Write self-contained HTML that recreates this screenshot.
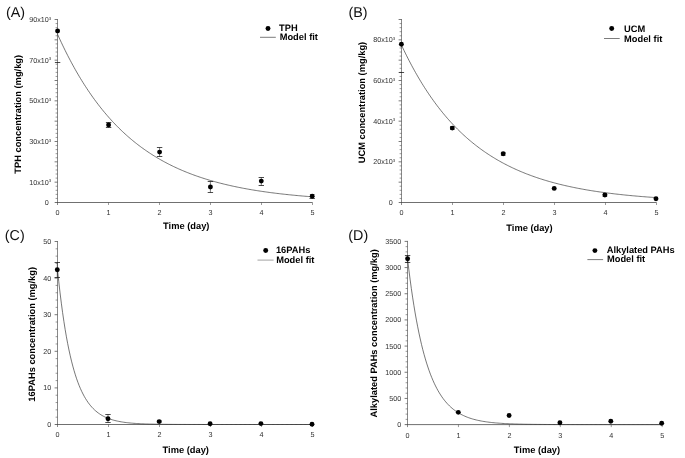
<!DOCTYPE html>
<html><head><meta charset="utf-8"><title>Figure</title>
<style>
html,body{margin:0;padding:0;background:#fff;}
body{width:685px;height:458px;overflow:hidden;font-family:"Liberation Sans",sans-serif;}
svg{display:block;will-change:transform;opacity:0.999;}
text{font-family:"Liberation Sans",sans-serif;text-rendering:geometricPrecision;}
.tl{font-size:7.2px;fill:#333;}
.sup{font-size:4.4px;}
.b{font-size:9.3px;font-weight:bold;fill:#000;}
.pl{font-size:14.3px;fill:#111;}
</style></head><body>
<svg width="685" height="458" viewBox="0 0 685 458">
<rect x="0" y="0" width="685" height="458" fill="#fff"/>
<line x1="54.70" y1="202.50" x2="312.50" y2="202.50" stroke="#404040" stroke-width="0.75"/>
<line x1="57.50" y1="19.00" x2="57.50" y2="205.00" stroke="#404040" stroke-width="0.62"/>
<line x1="55.60" y1="198.43" x2="57.50" y2="198.43" stroke="#484848" stroke-width="0.55"/>
<line x1="55.60" y1="194.37" x2="57.50" y2="194.37" stroke="#484848" stroke-width="0.55"/>
<line x1="55.60" y1="190.30" x2="57.50" y2="190.30" stroke="#484848" stroke-width="0.55"/>
<line x1="55.60" y1="186.23" x2="57.50" y2="186.23" stroke="#484848" stroke-width="0.55"/>
<line x1="54.60" y1="182.17" x2="57.50" y2="182.17" stroke="#404040" stroke-width="0.7"/>
<line x1="55.60" y1="178.10" x2="57.50" y2="178.10" stroke="#484848" stroke-width="0.55"/>
<line x1="55.60" y1="174.03" x2="57.50" y2="174.03" stroke="#484848" stroke-width="0.55"/>
<line x1="55.60" y1="169.97" x2="57.50" y2="169.97" stroke="#484848" stroke-width="0.55"/>
<line x1="55.60" y1="165.90" x2="57.50" y2="165.90" stroke="#484848" stroke-width="0.55"/>
<line x1="54.60" y1="161.83" x2="57.50" y2="161.83" stroke="#404040" stroke-width="0.7"/>
<line x1="55.60" y1="157.77" x2="57.50" y2="157.77" stroke="#484848" stroke-width="0.55"/>
<line x1="55.60" y1="153.70" x2="57.50" y2="153.70" stroke="#484848" stroke-width="0.55"/>
<line x1="55.60" y1="149.63" x2="57.50" y2="149.63" stroke="#484848" stroke-width="0.55"/>
<line x1="55.60" y1="145.57" x2="57.50" y2="145.57" stroke="#484848" stroke-width="0.55"/>
<line x1="54.60" y1="141.50" x2="57.50" y2="141.50" stroke="#404040" stroke-width="0.7"/>
<line x1="55.60" y1="137.43" x2="57.50" y2="137.43" stroke="#484848" stroke-width="0.55"/>
<line x1="55.60" y1="133.37" x2="57.50" y2="133.37" stroke="#484848" stroke-width="0.55"/>
<line x1="55.60" y1="129.30" x2="57.50" y2="129.30" stroke="#484848" stroke-width="0.55"/>
<line x1="55.60" y1="125.23" x2="57.50" y2="125.23" stroke="#484848" stroke-width="0.55"/>
<line x1="54.60" y1="121.17" x2="57.50" y2="121.17" stroke="#404040" stroke-width="0.7"/>
<line x1="55.60" y1="117.10" x2="57.50" y2="117.10" stroke="#484848" stroke-width="0.55"/>
<line x1="55.60" y1="113.03" x2="57.50" y2="113.03" stroke="#484848" stroke-width="0.55"/>
<line x1="55.60" y1="108.97" x2="57.50" y2="108.97" stroke="#484848" stroke-width="0.55"/>
<line x1="55.60" y1="104.90" x2="57.50" y2="104.90" stroke="#484848" stroke-width="0.55"/>
<line x1="54.60" y1="100.83" x2="57.50" y2="100.83" stroke="#404040" stroke-width="0.7"/>
<line x1="55.60" y1="96.77" x2="57.50" y2="96.77" stroke="#484848" stroke-width="0.55"/>
<line x1="55.60" y1="92.70" x2="57.50" y2="92.70" stroke="#484848" stroke-width="0.55"/>
<line x1="55.60" y1="88.63" x2="57.50" y2="88.63" stroke="#484848" stroke-width="0.55"/>
<line x1="55.60" y1="84.57" x2="57.50" y2="84.57" stroke="#484848" stroke-width="0.55"/>
<line x1="54.60" y1="80.50" x2="57.50" y2="80.50" stroke="#404040" stroke-width="0.7"/>
<line x1="55.60" y1="76.43" x2="57.50" y2="76.43" stroke="#484848" stroke-width="0.55"/>
<line x1="55.60" y1="72.37" x2="57.50" y2="72.37" stroke="#484848" stroke-width="0.55"/>
<line x1="55.60" y1="68.30" x2="57.50" y2="68.30" stroke="#484848" stroke-width="0.55"/>
<line x1="55.60" y1="64.23" x2="57.50" y2="64.23" stroke="#484848" stroke-width="0.55"/>
<line x1="54.60" y1="60.17" x2="57.50" y2="60.17" stroke="#404040" stroke-width="0.7"/>
<line x1="55.60" y1="56.10" x2="57.50" y2="56.10" stroke="#484848" stroke-width="0.55"/>
<line x1="55.60" y1="52.03" x2="57.50" y2="52.03" stroke="#484848" stroke-width="0.55"/>
<line x1="55.60" y1="47.97" x2="57.50" y2="47.97" stroke="#484848" stroke-width="0.55"/>
<line x1="55.60" y1="43.90" x2="57.50" y2="43.90" stroke="#484848" stroke-width="0.55"/>
<line x1="54.60" y1="39.83" x2="57.50" y2="39.83" stroke="#404040" stroke-width="0.7"/>
<line x1="55.60" y1="35.77" x2="57.50" y2="35.77" stroke="#484848" stroke-width="0.55"/>
<line x1="55.60" y1="31.70" x2="57.50" y2="31.70" stroke="#484848" stroke-width="0.55"/>
<line x1="55.60" y1="27.63" x2="57.50" y2="27.63" stroke="#484848" stroke-width="0.55"/>
<line x1="55.60" y1="23.57" x2="57.50" y2="23.57" stroke="#484848" stroke-width="0.55"/>
<line x1="54.60" y1="19.50" x2="57.50" y2="19.50" stroke="#404040" stroke-width="0.7"/>
<line x1="108.50" y1="202.50" x2="108.50" y2="205.00" stroke="#484848" stroke-width="0.55"/>
<line x1="159.50" y1="202.50" x2="159.50" y2="205.00" stroke="#484848" stroke-width="0.55"/>
<line x1="210.50" y1="202.50" x2="210.50" y2="205.00" stroke="#484848" stroke-width="0.55"/>
<line x1="261.50" y1="202.50" x2="261.50" y2="205.00" stroke="#484848" stroke-width="0.55"/>
<line x1="312.50" y1="202.50" x2="312.50" y2="205.00" stroke="#484848" stroke-width="0.55"/>
<text x="48.80" y="205.00" text-anchor="end" class="tl">0</text>
<text x="51.20" y="184.67" text-anchor="end" class="tl">10x10<tspan class="sup" dy="-2.5">3</tspan></text>
<text x="51.20" y="144.00" text-anchor="end" class="tl">30x10<tspan class="sup" dy="-2.5">3</tspan></text>
<text x="51.20" y="103.33" text-anchor="end" class="tl">50x10<tspan class="sup" dy="-2.5">3</tspan></text>
<text x="51.20" y="62.67" text-anchor="end" class="tl">70x10<tspan class="sup" dy="-2.5">3</tspan></text>
<text x="51.20" y="22.00" text-anchor="end" class="tl">90x10<tspan class="sup" dy="-2.5">3</tspan></text>
<text x="57.50" y="215.40" text-anchor="middle" class="tl">0</text>
<text x="108.50" y="215.40" text-anchor="middle" class="tl">1</text>
<text x="159.50" y="215.40" text-anchor="middle" class="tl">2</text>
<text x="210.50" y="215.40" text-anchor="middle" class="tl">3</text>
<text x="261.50" y="215.40" text-anchor="middle" class="tl">4</text>
<text x="312.50" y="215.40" text-anchor="middle" class="tl">5</text>
<path d="M57.50 34.14 L58.77 36.97 L60.05 39.75 L61.33 42.49 L62.60 45.18 L63.88 47.82 L65.15 50.42 L66.42 52.98 L67.70 55.49 L68.97 57.96 L70.25 60.39 L71.53 62.78 L72.80 65.13 L74.08 67.44 L75.35 69.71 L76.62 71.94 L77.90 74.13 L79.17 76.29 L80.45 78.41 L81.72 80.50 L83.00 82.55 L84.28 84.56 L85.55 86.54 L86.83 88.49 L88.10 90.41 L89.38 92.29 L90.65 94.15 L91.93 95.97 L93.20 97.76 L94.47 99.52 L95.75 101.25 L97.03 102.95 L98.30 104.62 L99.57 106.27 L100.85 107.89 L102.12 109.48 L103.40 111.04 L104.68 112.58 L105.95 114.09 L107.22 115.57 L108.50 117.04 L109.78 118.47 L111.05 119.88 L112.32 121.27 L113.60 122.64 L114.88 123.98 L116.15 125.30 L117.43 126.60 L118.70 127.87 L119.97 129.13 L121.25 130.36 L122.52 131.57 L123.80 132.76 L125.08 133.94 L126.35 135.09 L127.62 136.22 L128.90 137.34 L130.18 138.43 L131.45 139.51 L132.73 140.57 L134.00 141.61 L135.27 142.63 L136.55 143.64 L137.82 144.63 L139.10 145.60 L140.38 146.56 L141.65 147.50 L142.93 148.42 L144.20 149.33 L145.48 150.22 L146.75 151.10 L148.02 151.97 L149.30 152.81 L150.57 153.65 L151.85 154.47 L153.12 155.28 L154.40 156.07 L155.68 156.85 L156.95 157.62 L158.23 158.37 L159.50 159.12 L160.77 159.84 L162.05 160.56 L163.32 161.27 L164.60 161.96 L165.88 162.64 L167.15 163.31 L168.43 163.97 L169.70 164.62 L170.98 165.25 L172.25 165.88 L173.52 166.50 L174.80 167.10 L176.07 167.70 L177.35 168.28 L178.62 168.86 L179.90 169.42 L181.18 169.98 L182.45 170.52 L183.73 171.06 L185.00 171.59 L186.28 172.11 L187.55 172.62 L188.83 173.12 L190.10 173.62 L191.38 174.10 L192.65 174.58 L193.92 175.05 L195.20 175.51 L196.47 175.96 L197.75 176.41 L199.03 176.85 L200.30 177.28 L201.58 177.70 L202.85 178.12 L204.12 178.53 L205.40 178.93 L206.67 179.33 L207.95 179.72 L209.22 180.10 L210.50 180.48 L211.78 180.85 L213.05 181.21 L214.33 181.57 L215.60 181.92 L216.88 182.27 L218.15 182.61 L219.42 182.94 L220.70 183.27 L221.97 183.59 L223.25 183.91 L224.53 184.22 L225.80 184.53 L227.08 184.83 L228.35 185.13 L229.62 185.42 L230.90 185.71 L232.17 185.99 L233.45 186.27 L234.72 186.54 L236.00 186.81 L237.28 187.07 L238.55 187.33 L239.83 187.59 L241.10 187.84 L242.38 188.08 L243.65 188.33 L244.92 188.56 L246.20 188.80 L247.47 189.03 L248.75 189.26 L250.03 189.48 L251.30 189.70 L252.58 189.91 L253.85 190.12 L255.12 190.33 L256.40 190.54 L257.67 190.74 L258.95 190.93 L260.23 191.13 L261.50 191.32 L262.77 191.51 L264.05 191.69 L265.33 191.87 L266.60 192.05 L267.88 192.23 L269.15 192.40 L270.42 192.57 L271.70 192.74 L272.98 192.90 L274.25 193.06 L275.52 193.22 L276.80 193.38 L278.08 193.53 L279.35 193.68 L280.62 193.83 L281.90 193.98 L283.17 194.12 L284.45 194.26 L285.73 194.40 L287.00 194.53 L288.27 194.67 L289.55 194.80 L290.83 194.93 L292.10 195.06 L293.38 195.18 L294.65 195.30 L295.92 195.43 L297.20 195.54 L298.48 195.66 L299.75 195.78 L301.02 195.89 L302.30 196.00 L303.58 196.11 L304.85 196.22 L306.12 196.32 L307.40 196.43 L308.67 196.53 L309.95 196.63 L311.23 196.73 L312.50 196.82" fill="none" stroke="#303030" stroke-width="0.66"/>
<line x1="54.90" y1="62.50" x2="60.30" y2="62.50" stroke="#111" stroke-width="0.75"/>
<circle cx="57.60" cy="31.00" r="2.45" fill="#000"/>
<line x1="108.60" y1="122.50" x2="108.60" y2="127.50" stroke="#222" stroke-width="0.6"/>
<line x1="105.90" y1="122.50" x2="111.30" y2="122.50" stroke="#111" stroke-width="0.75"/>
<line x1="105.90" y1="127.50" x2="111.30" y2="127.50" stroke="#111" stroke-width="0.75"/>
<circle cx="108.60" cy="124.90" r="2.45" fill="#000"/>
<line x1="159.60" y1="147.50" x2="159.60" y2="156.50" stroke="#222" stroke-width="0.6"/>
<line x1="156.90" y1="147.50" x2="162.30" y2="147.50" stroke="#111" stroke-width="0.75"/>
<line x1="156.90" y1="156.50" x2="162.30" y2="156.50" stroke="#111" stroke-width="0.75"/>
<circle cx="159.60" cy="152.10" r="2.45" fill="#000"/>
<line x1="210.40" y1="181.50" x2="210.40" y2="192.50" stroke="#222" stroke-width="0.6"/>
<line x1="207.70" y1="181.50" x2="213.10" y2="181.50" stroke="#111" stroke-width="0.75"/>
<line x1="207.70" y1="192.50" x2="213.10" y2="192.50" stroke="#111" stroke-width="0.75"/>
<circle cx="210.40" cy="187.00" r="2.45" fill="#000"/>
<line x1="261.30" y1="177.50" x2="261.30" y2="185.50" stroke="#222" stroke-width="0.6"/>
<line x1="258.60" y1="177.50" x2="264.00" y2="177.50" stroke="#111" stroke-width="0.75"/>
<line x1="258.60" y1="185.50" x2="264.00" y2="185.50" stroke="#111" stroke-width="0.75"/>
<circle cx="261.30" cy="181.10" r="2.45" fill="#000"/>
<line x1="312.20" y1="194.50" x2="312.20" y2="198.50" stroke="#222" stroke-width="0.6"/>
<line x1="309.90" y1="194.50" x2="314.50" y2="194.50" stroke="#111" stroke-width="0.6"/>
<line x1="309.50" y1="198.50" x2="314.90" y2="198.50" stroke="#111" stroke-width="0.75"/>
<circle cx="312.20" cy="196.20" r="2.45" fill="#000"/>
<line x1="398.70" y1="202.50" x2="656.50" y2="202.50" stroke="#404040" stroke-width="0.75"/>
<line x1="401.50" y1="19.00" x2="401.50" y2="205.00" stroke="#404040" stroke-width="0.62"/>
<line x1="399.60" y1="198.43" x2="401.50" y2="198.43" stroke="#484848" stroke-width="0.55"/>
<line x1="399.60" y1="194.37" x2="401.50" y2="194.37" stroke="#484848" stroke-width="0.55"/>
<line x1="399.60" y1="190.30" x2="401.50" y2="190.30" stroke="#484848" stroke-width="0.55"/>
<line x1="399.60" y1="186.23" x2="401.50" y2="186.23" stroke="#484848" stroke-width="0.55"/>
<line x1="398.60" y1="182.17" x2="401.50" y2="182.17" stroke="#404040" stroke-width="0.7"/>
<line x1="399.60" y1="178.10" x2="401.50" y2="178.10" stroke="#484848" stroke-width="0.55"/>
<line x1="399.60" y1="174.03" x2="401.50" y2="174.03" stroke="#484848" stroke-width="0.55"/>
<line x1="399.60" y1="169.97" x2="401.50" y2="169.97" stroke="#484848" stroke-width="0.55"/>
<line x1="399.60" y1="165.90" x2="401.50" y2="165.90" stroke="#484848" stroke-width="0.55"/>
<line x1="398.60" y1="161.83" x2="401.50" y2="161.83" stroke="#404040" stroke-width="0.7"/>
<line x1="399.60" y1="157.77" x2="401.50" y2="157.77" stroke="#484848" stroke-width="0.55"/>
<line x1="399.60" y1="153.70" x2="401.50" y2="153.70" stroke="#484848" stroke-width="0.55"/>
<line x1="399.60" y1="149.63" x2="401.50" y2="149.63" stroke="#484848" stroke-width="0.55"/>
<line x1="399.60" y1="145.57" x2="401.50" y2="145.57" stroke="#484848" stroke-width="0.55"/>
<line x1="398.60" y1="141.50" x2="401.50" y2="141.50" stroke="#404040" stroke-width="0.7"/>
<line x1="399.60" y1="137.43" x2="401.50" y2="137.43" stroke="#484848" stroke-width="0.55"/>
<line x1="399.60" y1="133.37" x2="401.50" y2="133.37" stroke="#484848" stroke-width="0.55"/>
<line x1="399.60" y1="129.30" x2="401.50" y2="129.30" stroke="#484848" stroke-width="0.55"/>
<line x1="399.60" y1="125.23" x2="401.50" y2="125.23" stroke="#484848" stroke-width="0.55"/>
<line x1="398.60" y1="121.17" x2="401.50" y2="121.17" stroke="#404040" stroke-width="0.7"/>
<line x1="399.60" y1="117.10" x2="401.50" y2="117.10" stroke="#484848" stroke-width="0.55"/>
<line x1="399.60" y1="113.03" x2="401.50" y2="113.03" stroke="#484848" stroke-width="0.55"/>
<line x1="399.60" y1="108.97" x2="401.50" y2="108.97" stroke="#484848" stroke-width="0.55"/>
<line x1="399.60" y1="104.90" x2="401.50" y2="104.90" stroke="#484848" stroke-width="0.55"/>
<line x1="398.60" y1="100.83" x2="401.50" y2="100.83" stroke="#404040" stroke-width="0.7"/>
<line x1="399.60" y1="96.77" x2="401.50" y2="96.77" stroke="#484848" stroke-width="0.55"/>
<line x1="399.60" y1="92.70" x2="401.50" y2="92.70" stroke="#484848" stroke-width="0.55"/>
<line x1="399.60" y1="88.63" x2="401.50" y2="88.63" stroke="#484848" stroke-width="0.55"/>
<line x1="399.60" y1="84.57" x2="401.50" y2="84.57" stroke="#484848" stroke-width="0.55"/>
<line x1="398.60" y1="80.50" x2="401.50" y2="80.50" stroke="#404040" stroke-width="0.7"/>
<line x1="399.60" y1="76.43" x2="401.50" y2="76.43" stroke="#484848" stroke-width="0.55"/>
<line x1="399.60" y1="72.37" x2="401.50" y2="72.37" stroke="#484848" stroke-width="0.55"/>
<line x1="399.60" y1="68.30" x2="401.50" y2="68.30" stroke="#484848" stroke-width="0.55"/>
<line x1="399.60" y1="64.23" x2="401.50" y2="64.23" stroke="#484848" stroke-width="0.55"/>
<line x1="398.60" y1="60.17" x2="401.50" y2="60.17" stroke="#404040" stroke-width="0.7"/>
<line x1="399.60" y1="56.10" x2="401.50" y2="56.10" stroke="#484848" stroke-width="0.55"/>
<line x1="399.60" y1="52.03" x2="401.50" y2="52.03" stroke="#484848" stroke-width="0.55"/>
<line x1="399.60" y1="47.97" x2="401.50" y2="47.97" stroke="#484848" stroke-width="0.55"/>
<line x1="399.60" y1="43.90" x2="401.50" y2="43.90" stroke="#484848" stroke-width="0.55"/>
<line x1="398.60" y1="39.83" x2="401.50" y2="39.83" stroke="#404040" stroke-width="0.7"/>
<line x1="399.60" y1="35.77" x2="401.50" y2="35.77" stroke="#484848" stroke-width="0.55"/>
<line x1="399.60" y1="31.70" x2="401.50" y2="31.70" stroke="#484848" stroke-width="0.55"/>
<line x1="399.60" y1="27.63" x2="401.50" y2="27.63" stroke="#484848" stroke-width="0.55"/>
<line x1="399.60" y1="23.57" x2="401.50" y2="23.57" stroke="#484848" stroke-width="0.55"/>
<line x1="398.60" y1="19.50" x2="401.50" y2="19.50" stroke="#404040" stroke-width="0.7"/>
<line x1="452.50" y1="202.50" x2="452.50" y2="205.00" stroke="#484848" stroke-width="0.55"/>
<line x1="503.50" y1="202.50" x2="503.50" y2="205.00" stroke="#484848" stroke-width="0.55"/>
<line x1="554.50" y1="202.50" x2="554.50" y2="205.00" stroke="#484848" stroke-width="0.55"/>
<line x1="605.50" y1="202.50" x2="605.50" y2="205.00" stroke="#484848" stroke-width="0.55"/>
<line x1="656.50" y1="202.50" x2="656.50" y2="205.00" stroke="#484848" stroke-width="0.55"/>
<text x="392.80" y="205.00" text-anchor="end" class="tl">0</text>
<text x="395.20" y="164.33" text-anchor="end" class="tl">20x10<tspan class="sup" dy="-2.5">3</tspan></text>
<text x="395.20" y="123.67" text-anchor="end" class="tl">40x10<tspan class="sup" dy="-2.5">3</tspan></text>
<text x="395.20" y="83.00" text-anchor="end" class="tl">60x10<tspan class="sup" dy="-2.5">3</tspan></text>
<text x="395.20" y="42.33" text-anchor="end" class="tl">80x10<tspan class="sup" dy="-2.5">3</tspan></text>
<text x="401.50" y="215.40" text-anchor="middle" class="tl">0</text>
<text x="452.50" y="215.40" text-anchor="middle" class="tl">1</text>
<text x="503.50" y="215.40" text-anchor="middle" class="tl">2</text>
<text x="554.50" y="215.40" text-anchor="middle" class="tl">3</text>
<text x="605.50" y="215.40" text-anchor="middle" class="tl">4</text>
<text x="656.50" y="215.40" text-anchor="middle" class="tl">5</text>
<path d="M401.50 45.12 L402.77 47.83 L404.05 50.50 L405.32 53.11 L406.60 55.69 L407.88 58.22 L409.15 60.70 L410.43 63.14 L411.70 65.54 L412.98 67.90 L414.25 70.22 L415.52 72.50 L416.80 74.74 L418.07 76.94 L419.35 79.10 L420.62 81.23 L421.90 83.32 L423.18 85.37 L424.45 87.39 L425.73 89.37 L427.00 91.32 L428.27 93.23 L429.55 95.12 L430.82 96.97 L432.10 98.78 L433.38 100.57 L434.65 102.33 L435.93 104.05 L437.20 105.75 L438.48 107.41 L439.75 109.05 L441.02 110.66 L442.30 112.24 L443.57 113.80 L444.85 115.33 L446.12 116.83 L447.40 118.30 L448.68 119.75 L449.95 121.18 L451.23 122.58 L452.50 123.96 L453.77 125.31 L455.05 126.64 L456.32 127.94 L457.60 129.23 L458.88 130.49 L460.15 131.73 L461.43 132.95 L462.70 134.15 L463.98 135.33 L465.25 136.48 L466.52 137.62 L467.80 138.74 L469.07 139.84 L470.35 140.92 L471.62 141.98 L472.90 143.02 L474.18 144.04 L475.45 145.05 L476.73 146.04 L478.00 147.01 L479.27 147.97 L480.55 148.91 L481.82 149.83 L483.10 150.74 L484.38 151.63 L485.65 152.51 L486.93 153.37 L488.20 154.21 L489.48 155.04 L490.75 155.86 L492.02 156.67 L493.30 157.45 L494.57 158.23 L495.85 158.99 L497.12 159.74 L498.40 160.48 L499.68 161.20 L500.95 161.91 L502.23 162.61 L503.50 163.30 L504.77 163.98 L506.05 164.64 L507.32 165.29 L508.60 165.93 L509.88 166.56 L511.15 167.18 L512.42 167.79 L513.70 168.39 L514.98 168.98 L516.25 169.55 L517.52 170.12 L518.80 170.68 L520.08 171.23 L521.35 171.76 L522.62 172.29 L523.90 172.81 L525.17 173.33 L526.45 173.83 L527.73 174.32 L529.00 174.81 L530.27 175.28 L531.55 175.75 L532.83 176.21 L534.10 176.67 L535.38 177.11 L536.65 177.55 L537.92 177.98 L539.20 178.40 L540.48 178.82 L541.75 179.22 L543.02 179.63 L544.30 180.02 L545.58 180.41 L546.85 180.79 L548.12 181.16 L549.40 181.53 L550.67 181.89 L551.95 182.24 L553.23 182.59 L554.50 182.94 L555.77 183.27 L557.05 183.60 L558.33 183.93 L559.60 184.25 L560.88 184.56 L562.15 184.87 L563.42 185.18 L564.70 185.48 L565.98 185.77 L567.25 186.06 L568.52 186.34 L569.80 186.62 L571.08 186.89 L572.35 187.16 L573.62 187.42 L574.90 187.68 L576.17 187.94 L577.45 188.19 L578.73 188.44 L580.00 188.68 L581.27 188.92 L582.55 189.15 L583.83 189.38 L585.10 189.61 L586.38 189.83 L587.65 190.05 L588.92 190.26 L590.20 190.47 L591.48 190.68 L592.75 190.88 L594.02 191.08 L595.30 191.28 L596.58 191.47 L597.85 191.66 L599.12 191.85 L600.40 192.03 L601.67 192.21 L602.95 192.39 L604.23 192.57 L605.50 192.74 L606.77 192.90 L608.05 193.07 L609.33 193.23 L610.60 193.39 L611.88 193.55 L613.15 193.70 L614.42 193.85 L615.70 194.00 L616.98 194.15 L618.25 194.29 L619.52 194.43 L620.80 194.57 L622.08 194.71 L623.35 194.84 L624.62 194.98 L625.90 195.11 L627.17 195.23 L628.45 195.36 L629.73 195.48 L631.00 195.60 L632.27 195.72 L633.55 195.84 L634.83 195.95 L636.10 196.07 L637.38 196.18 L638.65 196.29 L639.92 196.39 L641.20 196.50 L642.48 196.60 L643.75 196.70 L645.02 196.80 L646.30 196.90 L647.58 197.00 L648.85 197.09 L650.12 197.18 L651.40 197.28 L652.67 197.37 L653.95 197.45 L655.23 197.54 L656.50 197.63" fill="none" stroke="#303030" stroke-width="0.66"/>
<line x1="398.70" y1="72.50" x2="404.10" y2="72.50" stroke="#111" stroke-width="0.75"/>
<circle cx="401.40" cy="44.20" r="2.45" fill="#000"/>
<line x1="452.30" y1="126.50" x2="452.30" y2="129.50" stroke="#222" stroke-width="0.6"/>
<line x1="450.00" y1="126.50" x2="454.60" y2="126.50" stroke="#111" stroke-width="0.6"/>
<line x1="450.00" y1="129.50" x2="454.60" y2="129.50" stroke="#111" stroke-width="0.6"/>
<circle cx="452.30" cy="128.10" r="2.45" fill="#000"/>
<line x1="503.20" y1="152.50" x2="503.20" y2="155.50" stroke="#222" stroke-width="0.6"/>
<line x1="500.90" y1="152.50" x2="505.50" y2="152.50" stroke="#111" stroke-width="0.6"/>
<line x1="500.90" y1="155.50" x2="505.50" y2="155.50" stroke="#111" stroke-width="0.6"/>
<circle cx="503.20" cy="153.80" r="2.45" fill="#000"/>
<circle cx="554.20" cy="188.40" r="2.45" fill="#000"/>
<line x1="604.90" y1="194.50" x2="604.90" y2="196.50" stroke="#222" stroke-width="0.6"/>
<line x1="602.60" y1="194.50" x2="607.20" y2="194.50" stroke="#111" stroke-width="0.6"/>
<line x1="602.60" y1="196.50" x2="607.20" y2="196.50" stroke="#111" stroke-width="0.6"/>
<circle cx="604.90" cy="195.00" r="2.45" fill="#000"/>
<circle cx="656.00" cy="198.80" r="2.45" fill="#000"/>
<line x1="54.70" y1="424.50" x2="312.50" y2="424.50" stroke="#404040" stroke-width="0.75"/>
<line x1="57.50" y1="241.00" x2="57.50" y2="427.00" stroke="#404040" stroke-width="0.62"/>
<line x1="55.60" y1="417.18" x2="57.50" y2="417.18" stroke="#484848" stroke-width="0.55"/>
<line x1="55.60" y1="409.86" x2="57.50" y2="409.86" stroke="#484848" stroke-width="0.55"/>
<line x1="55.60" y1="402.54" x2="57.50" y2="402.54" stroke="#484848" stroke-width="0.55"/>
<line x1="55.60" y1="395.22" x2="57.50" y2="395.22" stroke="#484848" stroke-width="0.55"/>
<line x1="54.60" y1="387.90" x2="57.50" y2="387.90" stroke="#404040" stroke-width="0.7"/>
<line x1="55.60" y1="380.58" x2="57.50" y2="380.58" stroke="#484848" stroke-width="0.55"/>
<line x1="55.60" y1="373.26" x2="57.50" y2="373.26" stroke="#484848" stroke-width="0.55"/>
<line x1="55.60" y1="365.94" x2="57.50" y2="365.94" stroke="#484848" stroke-width="0.55"/>
<line x1="55.60" y1="358.62" x2="57.50" y2="358.62" stroke="#484848" stroke-width="0.55"/>
<line x1="54.60" y1="351.30" x2="57.50" y2="351.30" stroke="#404040" stroke-width="0.7"/>
<line x1="55.60" y1="343.98" x2="57.50" y2="343.98" stroke="#484848" stroke-width="0.55"/>
<line x1="55.60" y1="336.66" x2="57.50" y2="336.66" stroke="#484848" stroke-width="0.55"/>
<line x1="55.60" y1="329.34" x2="57.50" y2="329.34" stroke="#484848" stroke-width="0.55"/>
<line x1="55.60" y1="322.02" x2="57.50" y2="322.02" stroke="#484848" stroke-width="0.55"/>
<line x1="54.60" y1="314.70" x2="57.50" y2="314.70" stroke="#404040" stroke-width="0.7"/>
<line x1="55.60" y1="307.38" x2="57.50" y2="307.38" stroke="#484848" stroke-width="0.55"/>
<line x1="55.60" y1="300.06" x2="57.50" y2="300.06" stroke="#484848" stroke-width="0.55"/>
<line x1="55.60" y1="292.74" x2="57.50" y2="292.74" stroke="#484848" stroke-width="0.55"/>
<line x1="55.60" y1="285.42" x2="57.50" y2="285.42" stroke="#484848" stroke-width="0.55"/>
<line x1="54.60" y1="278.10" x2="57.50" y2="278.10" stroke="#404040" stroke-width="0.7"/>
<line x1="55.60" y1="270.78" x2="57.50" y2="270.78" stroke="#484848" stroke-width="0.55"/>
<line x1="55.60" y1="263.46" x2="57.50" y2="263.46" stroke="#484848" stroke-width="0.55"/>
<line x1="55.60" y1="256.14" x2="57.50" y2="256.14" stroke="#484848" stroke-width="0.55"/>
<line x1="55.60" y1="248.82" x2="57.50" y2="248.82" stroke="#484848" stroke-width="0.55"/>
<line x1="54.60" y1="241.50" x2="57.50" y2="241.50" stroke="#404040" stroke-width="0.7"/>
<line x1="108.50" y1="424.50" x2="108.50" y2="427.00" stroke="#484848" stroke-width="0.55"/>
<line x1="159.50" y1="424.50" x2="159.50" y2="427.00" stroke="#484848" stroke-width="0.55"/>
<line x1="210.50" y1="424.50" x2="210.50" y2="427.00" stroke="#484848" stroke-width="0.55"/>
<line x1="261.50" y1="424.50" x2="261.50" y2="427.00" stroke="#484848" stroke-width="0.55"/>
<line x1="312.50" y1="424.50" x2="312.50" y2="427.00" stroke="#484848" stroke-width="0.55"/>
<text x="51.20" y="427.00" text-anchor="end" class="tl">0</text>
<text x="51.20" y="390.40" text-anchor="end" class="tl">10</text>
<text x="51.20" y="353.80" text-anchor="end" class="tl">20</text>
<text x="51.20" y="317.20" text-anchor="end" class="tl">30</text>
<text x="51.20" y="280.60" text-anchor="end" class="tl">40</text>
<text x="51.20" y="244.00" text-anchor="end" class="tl">50</text>
<text x="57.50" y="437.40" text-anchor="middle" class="tl">0</text>
<text x="108.50" y="437.40" text-anchor="middle" class="tl">1</text>
<text x="159.50" y="437.40" text-anchor="middle" class="tl">2</text>
<text x="210.50" y="437.40" text-anchor="middle" class="tl">3</text>
<text x="261.50" y="437.40" text-anchor="middle" class="tl">4</text>
<text x="312.50" y="437.40" text-anchor="middle" class="tl">5</text>
<path d="M57.50 269.68 L58.77 281.76 L60.05 292.90 L61.33 303.17 L62.60 312.64 L63.88 321.37 L65.15 329.42 L66.42 336.84 L67.70 343.68 L68.97 349.99 L70.25 355.80 L71.53 361.16 L72.80 366.10 L74.08 370.66 L75.35 374.86 L76.62 378.74 L77.90 382.31 L79.17 385.60 L80.45 388.64 L81.72 391.43 L83.00 394.01 L84.28 396.39 L85.55 398.59 L86.83 400.61 L88.10 402.47 L89.38 404.19 L90.65 405.78 L91.93 407.24 L93.20 408.59 L94.47 409.83 L95.75 410.97 L97.03 412.03 L98.30 413.00 L99.57 413.90 L100.85 414.73 L102.12 415.49 L103.40 416.19 L104.68 416.84 L105.95 417.44 L107.22 417.99 L108.50 418.50 L109.78 418.97 L111.05 419.40 L112.32 419.80 L113.60 420.16 L114.88 420.50 L116.15 420.81 L117.43 421.10 L118.70 421.37 L119.97 421.61 L121.25 421.84 L122.52 422.04 L123.80 422.24 L125.08 422.41 L126.35 422.58 L127.62 422.73 L128.90 422.86 L130.18 422.99 L131.45 423.11 L132.73 423.22 L134.00 423.32 L135.27 423.41 L136.55 423.50 L137.82 423.57 L139.10 423.65 L140.38 423.71 L141.65 423.77 L142.93 423.83 L144.20 423.88 L145.48 423.93 L146.75 423.98 L148.02 424.02 L149.30 424.05 L150.57 424.09 L151.85 424.12 L153.12 424.15 L154.40 424.18 L155.68 424.20 L156.95 424.23 L158.23 424.25 L159.50 424.27 L160.77 424.29 L162.05 424.30 L163.32 424.32 L164.60 424.33 L165.88 424.34 L167.15 424.36 L168.43 424.37 L169.70 424.38 L170.98 424.39 L172.25 424.40 L173.52 424.40 L174.80 424.41 L176.07 424.42 L177.35 424.43 L178.62 424.43 L179.90 424.44 L181.18 424.44 L182.45 424.45 L183.73 424.45 L185.00 424.45 L186.28 424.46 L187.55 424.46 L188.83 424.46 L190.10 424.47 L191.38 424.47 L192.65 424.47 L193.92 424.47 L195.20 424.48 L196.47 424.48 L197.75 424.48 L199.03 424.48 L200.30 424.48 L201.58 424.48 L202.85 424.49 L204.12 424.49 L205.40 424.49 L206.67 424.49 L207.95 424.49 L209.22 424.49 L210.50 424.49 L211.78 424.49 L213.05 424.49 L214.33 424.49 L215.60 424.49 L216.88 424.49 L218.15 424.49 L219.42 424.49 L220.70 424.50 L221.97 424.50 L223.25 424.50 L224.53 424.50 L225.80 424.50 L227.08 424.50 L228.35 424.50 L229.62 424.50 L230.90 424.50 L232.17 424.50 L233.45 424.50 L234.72 424.50 L236.00 424.50 L237.28 424.50 L238.55 424.50 L239.83 424.50 L241.10 424.50 L242.38 424.50 L243.65 424.50 L244.92 424.50 L246.20 424.50 L247.47 424.50 L248.75 424.50 L250.03 424.50 L251.30 424.50 L252.58 424.50 L253.85 424.50 L255.12 424.50 L256.40 424.50 L257.67 424.50 L258.95 424.50 L260.23 424.50 L261.50 424.50 L262.77 424.50 L264.05 424.50 L265.33 424.50 L266.60 424.50 L267.88 424.50 L269.15 424.50 L270.42 424.50 L271.70 424.50 L272.98 424.50 L274.25 424.50 L275.52 424.50 L276.80 424.50 L278.08 424.50 L279.35 424.50 L280.62 424.50 L281.90 424.50 L283.17 424.50 L284.45 424.50 L285.73 424.50 L287.00 424.50 L288.27 424.50 L289.55 424.50 L290.83 424.50 L292.10 424.50 L293.38 424.50 L294.65 424.50 L295.92 424.50 L297.20 424.50 L298.48 424.50 L299.75 424.50 L301.02 424.50 L302.30 424.50 L303.58 424.50 L304.85 424.50 L306.12 424.50 L307.40 424.50 L308.67 424.50 L309.95 424.50 L311.23 424.50 L312.50 424.50" fill="none" stroke="#303030" stroke-width="0.66"/>
<line x1="57.30" y1="262.50" x2="57.30" y2="277.50" stroke="#222" stroke-width="0.6"/>
<line x1="54.60" y1="262.50" x2="60.00" y2="262.50" stroke="#111" stroke-width="0.75"/>
<line x1="54.60" y1="277.50" x2="60.00" y2="277.50" stroke="#111" stroke-width="0.75"/>
<circle cx="57.30" cy="269.70" r="2.45" fill="#000"/>
<line x1="108.00" y1="414.50" x2="108.00" y2="422.50" stroke="#222" stroke-width="0.6"/>
<line x1="105.30" y1="414.50" x2="110.70" y2="414.50" stroke="#111" stroke-width="0.75"/>
<line x1="105.30" y1="422.50" x2="110.70" y2="422.50" stroke="#111" stroke-width="0.75"/>
<circle cx="108.00" cy="418.70" r="2.45" fill="#000"/>
<line x1="159.20" y1="420.50" x2="159.20" y2="422.50" stroke="#222" stroke-width="0.6"/>
<line x1="156.90" y1="420.50" x2="161.50" y2="420.50" stroke="#111" stroke-width="0.6"/>
<line x1="156.90" y1="422.50" x2="161.50" y2="422.50" stroke="#111" stroke-width="0.6"/>
<circle cx="159.20" cy="421.60" r="2.45" fill="#000"/>
<circle cx="210.10" cy="423.80" r="2.45" fill="#000"/>
<circle cx="260.90" cy="423.60" r="2.45" fill="#000"/>
<circle cx="312.00" cy="424.30" r="2.45" fill="#000"/>
<line x1="404.70" y1="424.60" x2="662.20" y2="424.60" stroke="#404040" stroke-width="0.75"/>
<line x1="407.50" y1="240.90" x2="407.50" y2="427.10" stroke="#404040" stroke-width="0.62"/>
<line x1="405.60" y1="419.37" x2="407.50" y2="419.37" stroke="#484848" stroke-width="0.55"/>
<line x1="405.60" y1="414.13" x2="407.50" y2="414.13" stroke="#484848" stroke-width="0.55"/>
<line x1="405.60" y1="408.90" x2="407.50" y2="408.90" stroke="#484848" stroke-width="0.55"/>
<line x1="405.60" y1="403.66" x2="407.50" y2="403.66" stroke="#484848" stroke-width="0.55"/>
<line x1="404.60" y1="398.43" x2="407.50" y2="398.43" stroke="#404040" stroke-width="0.7"/>
<line x1="405.60" y1="393.19" x2="407.50" y2="393.19" stroke="#484848" stroke-width="0.55"/>
<line x1="405.60" y1="387.96" x2="407.50" y2="387.96" stroke="#484848" stroke-width="0.55"/>
<line x1="405.60" y1="382.73" x2="407.50" y2="382.73" stroke="#484848" stroke-width="0.55"/>
<line x1="405.60" y1="377.49" x2="407.50" y2="377.49" stroke="#484848" stroke-width="0.55"/>
<line x1="404.60" y1="372.26" x2="407.50" y2="372.26" stroke="#404040" stroke-width="0.7"/>
<line x1="405.60" y1="367.02" x2="407.50" y2="367.02" stroke="#484848" stroke-width="0.55"/>
<line x1="405.60" y1="361.79" x2="407.50" y2="361.79" stroke="#484848" stroke-width="0.55"/>
<line x1="405.60" y1="356.55" x2="407.50" y2="356.55" stroke="#484848" stroke-width="0.55"/>
<line x1="405.60" y1="351.32" x2="407.50" y2="351.32" stroke="#484848" stroke-width="0.55"/>
<line x1="404.60" y1="346.09" x2="407.50" y2="346.09" stroke="#404040" stroke-width="0.7"/>
<line x1="405.60" y1="340.85" x2="407.50" y2="340.85" stroke="#484848" stroke-width="0.55"/>
<line x1="405.60" y1="335.62" x2="407.50" y2="335.62" stroke="#484848" stroke-width="0.55"/>
<line x1="405.60" y1="330.38" x2="407.50" y2="330.38" stroke="#484848" stroke-width="0.55"/>
<line x1="405.60" y1="325.15" x2="407.50" y2="325.15" stroke="#484848" stroke-width="0.55"/>
<line x1="404.60" y1="319.91" x2="407.50" y2="319.91" stroke="#404040" stroke-width="0.7"/>
<line x1="405.60" y1="314.68" x2="407.50" y2="314.68" stroke="#484848" stroke-width="0.55"/>
<line x1="405.60" y1="309.45" x2="407.50" y2="309.45" stroke="#484848" stroke-width="0.55"/>
<line x1="405.60" y1="304.21" x2="407.50" y2="304.21" stroke="#484848" stroke-width="0.55"/>
<line x1="405.60" y1="298.98" x2="407.50" y2="298.98" stroke="#484848" stroke-width="0.55"/>
<line x1="404.60" y1="293.74" x2="407.50" y2="293.74" stroke="#404040" stroke-width="0.7"/>
<line x1="405.60" y1="288.51" x2="407.50" y2="288.51" stroke="#484848" stroke-width="0.55"/>
<line x1="405.60" y1="283.27" x2="407.50" y2="283.27" stroke="#484848" stroke-width="0.55"/>
<line x1="405.60" y1="278.04" x2="407.50" y2="278.04" stroke="#484848" stroke-width="0.55"/>
<line x1="405.60" y1="272.81" x2="407.50" y2="272.81" stroke="#484848" stroke-width="0.55"/>
<line x1="404.60" y1="267.57" x2="407.50" y2="267.57" stroke="#404040" stroke-width="0.7"/>
<line x1="405.60" y1="262.34" x2="407.50" y2="262.34" stroke="#484848" stroke-width="0.55"/>
<line x1="405.60" y1="257.10" x2="407.50" y2="257.10" stroke="#484848" stroke-width="0.55"/>
<line x1="405.60" y1="251.87" x2="407.50" y2="251.87" stroke="#484848" stroke-width="0.55"/>
<line x1="405.60" y1="246.63" x2="407.50" y2="246.63" stroke="#484848" stroke-width="0.55"/>
<line x1="404.60" y1="241.40" x2="407.50" y2="241.40" stroke="#404040" stroke-width="0.7"/>
<line x1="458.44" y1="424.60" x2="458.44" y2="427.10" stroke="#484848" stroke-width="0.55"/>
<line x1="509.38" y1="424.60" x2="509.38" y2="427.10" stroke="#484848" stroke-width="0.55"/>
<line x1="560.32" y1="424.60" x2="560.32" y2="427.10" stroke="#484848" stroke-width="0.55"/>
<line x1="611.26" y1="424.60" x2="611.26" y2="427.10" stroke="#484848" stroke-width="0.55"/>
<line x1="662.20" y1="424.60" x2="662.20" y2="427.10" stroke="#484848" stroke-width="0.55"/>
<text x="401.20" y="427.10" text-anchor="end" class="tl">0</text>
<text x="401.20" y="400.93" text-anchor="end" class="tl">500</text>
<text x="401.20" y="374.76" text-anchor="end" class="tl">1000</text>
<text x="401.20" y="348.59" text-anchor="end" class="tl">1500</text>
<text x="401.20" y="322.41" text-anchor="end" class="tl">2000</text>
<text x="401.20" y="296.24" text-anchor="end" class="tl">2500</text>
<text x="401.20" y="270.07" text-anchor="end" class="tl">3000</text>
<text x="401.20" y="243.90" text-anchor="end" class="tl">3500</text>
<text x="407.50" y="437.50" text-anchor="middle" class="tl">0</text>
<text x="458.44" y="437.50" text-anchor="middle" class="tl">1</text>
<text x="509.38" y="437.50" text-anchor="middle" class="tl">2</text>
<text x="560.32" y="437.50" text-anchor="middle" class="tl">3</text>
<text x="611.26" y="437.50" text-anchor="middle" class="tl">4</text>
<text x="662.20" y="437.50" text-anchor="middle" class="tl">5</text>
<path d="M407.50 258.46 L408.77 269.11 L410.05 279.08 L411.32 288.41 L412.59 297.14 L413.87 305.31 L415.14 312.96 L416.41 320.11 L417.69 326.81 L418.96 333.08 L420.24 338.95 L421.51 344.44 L422.78 349.58 L424.06 354.39 L425.33 358.89 L426.60 363.10 L427.88 367.04 L429.15 370.73 L430.42 374.18 L431.70 377.42 L432.97 380.44 L434.24 383.27 L435.52 385.92 L436.79 388.40 L438.06 390.72 L439.34 392.89 L440.61 394.92 L441.88 396.83 L443.16 398.61 L444.43 400.27 L445.71 401.83 L446.98 403.29 L448.25 404.66 L449.53 405.94 L450.80 407.13 L452.07 408.25 L453.35 409.30 L454.62 410.28 L455.89 411.20 L457.17 412.06 L458.44 412.86 L459.71 413.61 L460.99 414.32 L462.26 414.98 L463.53 415.59 L464.81 416.17 L466.08 416.71 L467.35 417.22 L468.63 417.69 L469.90 418.13 L471.18 418.55 L472.45 418.94 L473.72 419.30 L475.00 419.64 L476.27 419.96 L477.54 420.25 L478.82 420.53 L480.09 420.79 L481.36 421.04 L482.64 421.27 L483.91 421.48 L485.18 421.68 L486.46 421.87 L487.73 422.04 L489.00 422.21 L490.28 422.36 L491.55 422.50 L492.82 422.64 L494.10 422.76 L495.37 422.88 L496.65 422.99 L497.92 423.09 L499.19 423.19 L500.47 423.28 L501.74 423.37 L503.01 423.45 L504.29 423.52 L505.56 423.59 L506.83 423.65 L508.11 423.71 L509.38 423.77 L510.65 423.82 L511.93 423.87 L513.20 423.92 L514.47 423.96 L515.75 424.00 L517.02 424.04 L518.29 424.08 L519.57 424.11 L520.84 424.14 L522.12 424.17 L523.39 424.20 L524.66 424.23 L525.94 424.25 L527.21 424.27 L528.48 424.29 L529.76 424.31 L531.03 424.33 L532.30 424.35 L533.58 424.36 L534.85 424.38 L536.12 424.39 L537.40 424.41 L538.67 424.42 L539.94 424.43 L541.22 424.44 L542.49 424.45 L543.76 424.46 L545.04 424.47 L546.31 424.48 L547.59 424.49 L548.86 424.49 L550.13 424.50 L551.41 424.51 L552.68 424.51 L553.95 424.52 L555.23 424.52 L556.50 424.53 L557.77 424.53 L559.05 424.54 L560.32 424.54 L561.59 424.55 L562.87 424.55 L564.14 424.55 L565.41 424.56 L566.69 424.56 L567.96 424.56 L569.23 424.56 L570.51 424.57 L571.78 424.57 L573.06 424.57 L574.33 424.57 L575.60 424.57 L576.88 424.58 L578.15 424.58 L579.42 424.58 L580.70 424.58 L581.97 424.58 L583.24 424.58 L584.52 424.58 L585.79 424.58 L587.06 424.59 L588.34 424.59 L589.61 424.59 L590.88 424.59 L592.16 424.59 L593.43 424.59 L594.70 424.59 L595.98 424.59 L597.25 424.59 L598.53 424.59 L599.80 424.59 L601.07 424.59 L602.35 424.59 L603.62 424.59 L604.89 424.59 L606.17 424.59 L607.44 424.59 L608.71 424.60 L609.99 424.60 L611.26 424.60 L612.53 424.60 L613.81 424.60 L615.08 424.60 L616.35 424.60 L617.63 424.60 L618.90 424.60 L620.17 424.60 L621.45 424.60 L622.72 424.60 L624.00 424.60 L625.27 424.60 L626.54 424.60 L627.82 424.60 L629.09 424.60 L630.36 424.60 L631.64 424.60 L632.91 424.60 L634.18 424.60 L635.46 424.60 L636.73 424.60 L638.00 424.60 L639.28 424.60 L640.55 424.60 L641.82 424.60 L643.10 424.60 L644.37 424.60 L645.64 424.60 L646.92 424.60 L648.19 424.60 L649.47 424.60 L650.74 424.60 L652.01 424.60 L653.29 424.60 L654.56 424.60 L655.83 424.60 L657.11 424.60 L658.38 424.60 L659.65 424.60 L660.93 424.60 L662.20 424.60" fill="none" stroke="#303030" stroke-width="0.66"/>
<line x1="407.60" y1="255.50" x2="407.60" y2="262.50" stroke="#222" stroke-width="0.6"/>
<line x1="404.90" y1="255.50" x2="410.30" y2="255.50" stroke="#111" stroke-width="0.75"/>
<line x1="404.90" y1="262.50" x2="410.30" y2="262.50" stroke="#111" stroke-width="0.75"/>
<circle cx="407.60" cy="258.70" r="2.45" fill="#000"/>
<circle cx="458.30" cy="412.35" r="2.45" fill="#000"/>
<circle cx="509.10" cy="415.50" r="2.45" fill="#000"/>
<circle cx="559.90" cy="422.70" r="2.45" fill="#000"/>
<circle cx="610.80" cy="421.30" r="2.45" fill="#000"/>
<circle cx="661.70" cy="423.30" r="2.45" fill="#000"/>
<text x="6.0" y="16.6" class="pl">(A)</text>
<text x="348.4" y="17.2" class="pl">(B)</text>
<text x="4.8" y="239.7" class="pl">(C)</text>
<text x="348.3" y="239.7" class="pl">(D)</text>
<text transform="translate(21.10 114.30) rotate(-90)" text-anchor="middle" class="b">TPH concentration (mg/kg)</text>
<text transform="translate(364.70 102.50) rotate(-90)" text-anchor="middle" class="b">UCM concentration (mg/kg)</text>
<text transform="translate(35.00 334.30) rotate(-90)" text-anchor="middle" class="b">16PAHs concentration (mg/kg)</text>
<text transform="translate(377.20 333.40) rotate(-90)" text-anchor="middle" class="b">Alkylated PAHs concentration (mg/kg)</text>
<text x="163.1" y="228.9" class="b">Time (day)</text>
<text x="506.3" y="230.8" class="b">Time (day)</text>
<text x="162.6" y="452.7" class="b">Time (day)</text>
<text x="513.8" y="452.5" class="b">Time (day)</text>
<circle cx="268.0" cy="28.5" r="2.45" fill="#000"/>
<text x="279.1" y="30.9" class="b">TPH</text>
<text x="279.7" y="39.6" class="b">Model fit</text>
<line x1="260.0" y1="37.3" x2="275.8" y2="37.3" stroke="#444" stroke-width="0.7"/>
<circle cx="611.7" cy="28.5" r="2.45" fill="#000"/>
<text x="624.0" y="31.5" class="b">UCM</text>
<text x="624.1" y="41.7" class="b">Model fit</text>
<line x1="604.0" y1="38.5" x2="619.7" y2="38.5" stroke="#444" stroke-width="0.7"/>
<circle cx="265.7" cy="250.5" r="2.45" fill="#000"/>
<text x="275.9" y="253.4" class="b">16PAHs</text>
<text x="276.2" y="262.7" class="b">Model fit</text>
<line x1="257.5" y1="260.1" x2="273.6" y2="260.1" stroke="#444" stroke-width="0.5"/>
<circle cx="594.9" cy="250.6" r="2.45" fill="#000"/>
<text x="606.7" y="253.2" class="b">Alkylated PAHs</text>
<text x="607.0" y="262.0" class="b">Model fit</text>
<line x1="587.4" y1="259.6" x2="603.1" y2="259.6" stroke="#444" stroke-width="0.7"/>
</svg></body></html>
